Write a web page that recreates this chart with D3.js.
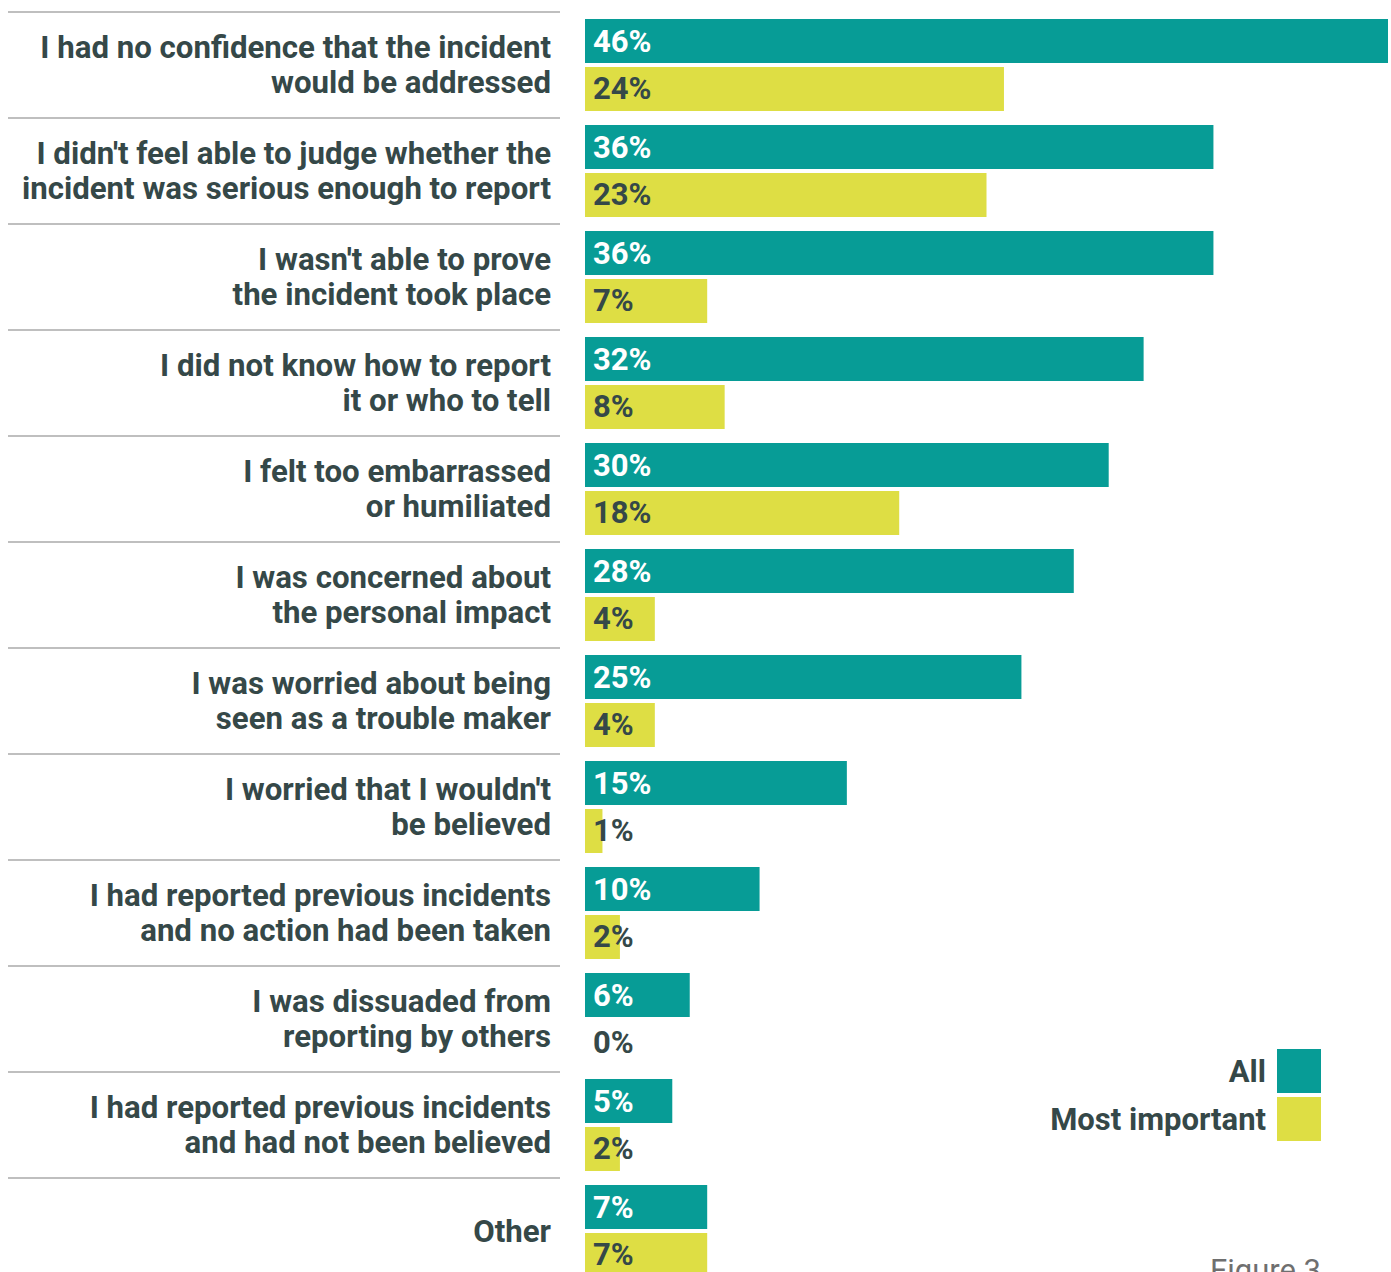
<!DOCTYPE html>
<html lang='en'>
<head>
  <title>Reasons for not reporting</title>
  <script src='https://cdn.jsdelivr.net/npm/d3@7/dist/d3.min.js'></script>
  <style>
    body { margin: 0; background: #fff; }
  </style>
</head>
<body>
  <script>
    // row labels (line breaks as in the figure)
    const reasons = [
      ["I had no confidence that the incident", "would be addressed"],
      ["I didn't feel able to judge whether the", "incident was serious enough to report"],
      ["I wasn't able to prove", "the incident took place"],
      ["I did not know how to report", "it or who to tell"],
      ["I felt too embarrassed", "or humiliated"],
      ["I was concerned about", "the personal impact"],
      ["I was worried about being", "seen as a trouble maker"],
      ["I worried that I wouldn't", "be believed"],
      ["I had reported previous incidents", "and no action had been taken"],
      ["I was dissuaded from", "reporting by others"],
      ["I had reported previous incidents", "and had not been believed"],
      ["Other"]
    ];
    const allValues = [46, 36, 36, 32, 30, 28, 25, 15, 10, 6, 5, 7];
    const mostImportant = [24, 23, 7, 8, 18, 4, 4, 1, 2, 0, 2, 7];
    const seriesNames = ["All", "Most important"];

    const teal = "#079c96", yellow = "#dede44", textCol = "#354848";

    const width = 1391, height = 1272;
    const svg = d3.select("body").append("svg")
      .attr("width", width)
      .attr("height", height)
      .style("font-family", "Roboto, sans-serif");

    const rows = reasons.map((r, i) => ({ id: i, lines: r, all: allValues[i], most: mostImportant[i] }));

    // scales
    let yScale = d3.scaleBand()
      .domain(rows.map(d => d.id))
      .range([12, 12 + 106 * rows.length]);
    let inner = d3.scaleBand()
      .domain(["all", "most"])
      .range([7, 99])
      .paddingInner(4 / 48);
    let xScale = d3.scaleLinear()
      .domain([0, 46])
      .range([585, 1388]);
    let colorScale = d3.scaleOrdinal()
      .domain(["all", "most"])
      .range([teal, yellow]);

    // separator lines above each row
    svg.selectAll(".sep").data(rows).join("line")
      .attr("x1", 8).attr("x2", 560)
      .attr("y1", d => yScale(d.id)).attr("y2", d => yScale(d.id))
      .attr("stroke", "#aaaaaa").attr("stroke-width", 1.5);

    const rowG = svg.selectAll(".row").data(rows).join("g")
      .attr("transform", d => `translate(0, ${yScale(d.id)})`);

    // row labels, squeezed a touch to look condensed
    rowG.each(function (d) {
      const g = d3.select(this);
      const mid = yScale.bandwidth() / 2;
      const n = d.lines.length;
      const t = g.append("text")
        .attr("transform", `translate(551, 0) scale(0.975, 1)`)
        .attr("text-anchor", "end")
        .attr("fill", textCol)
        .attr("font-size", 32)
        .attr("font-weight", 700);
      d.lines.forEach((line, k) => {
        t.append("tspan")
          .attr("x", 0)
          .attr("y", mid + 11 + (k - (n - 1) / 2) * 35)
          .text(line);
      });
    });

    // bars
    const bars = rowG.selectAll(".bar").data(d => [
      { key: "all", v: d.all },
      { key: "most", v: d.most }
    ]).join("g");

    bars.append("rect")
      .attr("x", xScale(0))
      .attr("y", d => inner(d.key))
      .attr("width", d => xScale(d.v) - xScale(0))
      .attr("height", inner.bandwidth())
      .attr("fill", d => colorScale(d.key));

    bars.append("text")
      .attr("x", xScale(0) + 8)
      .attr("y", d => inner(d.key) + inner.bandwidth() / 2 + (d.key === "all" ? 11 : 9.5))
      .attr("fill", d => d.key === "all" ? "#ffffff" : textCol)
      .attr("font-size", 31)
      .attr("font-weight", 700)
      .text(d => d.v + "%");

    // legend
    const legend = svg.append("g").selectAll(".leg").data(["all", "most"]).join("g")
      .attr("transform", (d, i) => `translate(1277, ${1049 + i * 48})`);
    legend.append("rect")
      .attr("width", 44).attr("height", 44)
      .attr("fill", d => colorScale(d));
    legend.append("text")
      .attr("x", -11).attr("y", 33)
      .attr("text-anchor", "end")
      .attr("fill", textCol)
      .attr("font-size", 31)
      .attr("font-weight", 700)
      .text((d, i) => seriesNames[i]);

    // figure caption, cut off at the bottom as in the source
    svg.append("text")
      .attr("x", 1321).attr("y", 1281)
      .attr("text-anchor", "end")
      .attr("fill", "#6f6f6f")
      .attr("font-size", 31)
      .text("Figure 3");
  </script>
</body>
</html>
